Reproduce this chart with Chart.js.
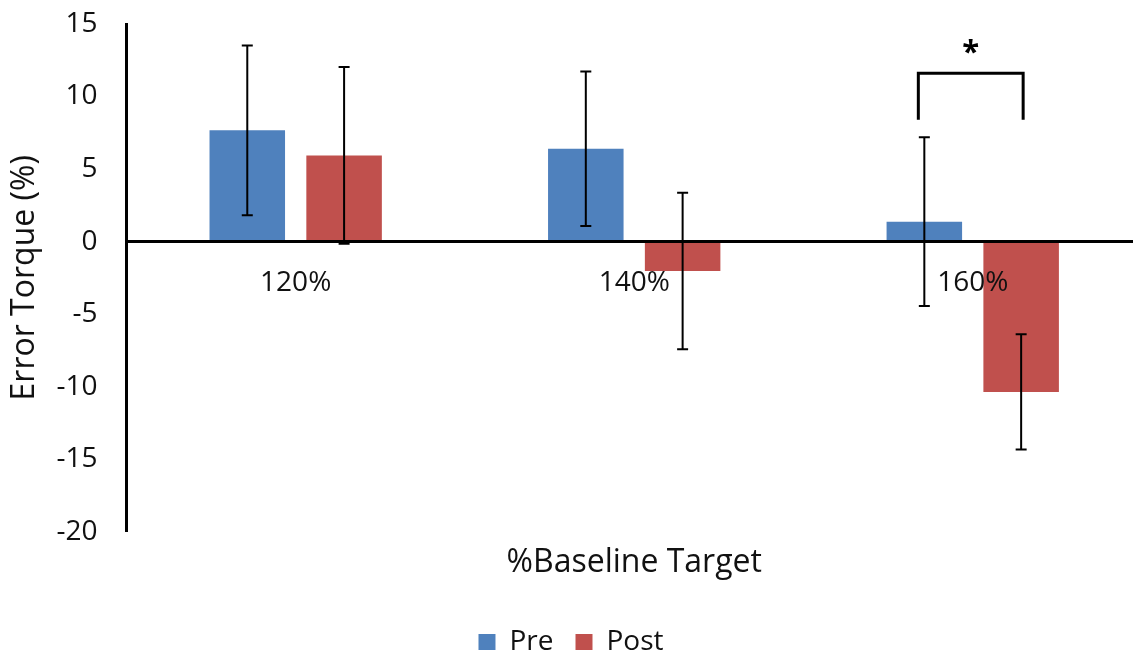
<!DOCTYPE html>
<html>
<head>
<meta charset="utf-8">
<title>Error Torque</title>
<script src="https://cdn.jsdelivr.net/npm/chart.js@4.4.0/dist/chart.umd.min.js"></script>
<style>
    html, body { margin: 0; padding: 0; background: #fff; overflow: hidden; }
    #wrap { width: 1150px; height: 666px; position: relative; }
</style>
</head>
<body>
<div id="wrap"><canvas id="torqueChart"></canvas></div>
<script>
// Categories and series values
const categories = ['120%', '140%', '160%'];
const preValues = [7.67, 6.4, 1.37];
const postValues = [5.94, -2.03, -10.37];
const preErrors = [5.85, 5.33, 5.82];
const postErrors = [6.1, 5.4, 3.97];

// Y axis range and step
const yMin = -20;
const yMax = 15;
const yStep = 5;

// Significance bracket over the 160% pair (in data units)
const sigCategory = 2;
const sigTop = 11.6;
const sigLegBottom = 8.4;
const sigStarValue = 13.0;
const sigLabel = '*';

const FONT = "'Open Sans', 'Noto Sans', sans-serif";
const TEXT = '#111';
const Y_TICK_PAD = 29;

// Draws the error bars for each dataset
const errorBars = {
    id: 'errorBars',
    afterDatasetsDraw(chart) {
        const ctx = chart.ctx;
        const y = chart.scales.y;
        const errs = [preErrors, postErrors];
        ctx.save();
        ctx.strokeStyle = '#000';
        ctx.lineWidth = 2;
        chart.data.datasets.forEach((ds, i) => {
            const meta = chart.getDatasetMeta(i);
            meta.data.forEach((bar, j) => {
                const v = ds.data[j];
                const hi = y.getPixelForValue(v + errs[i][j]);
                const lo = y.getPixelForValue(v - errs[i][j]);
                const cap = 5.5;
                ctx.beginPath();
                ctx.moveTo(bar.x, hi);
                ctx.lineTo(bar.x, lo);
                ctx.moveTo(bar.x - cap, hi);
                ctx.lineTo(bar.x + cap, hi);
                ctx.moveTo(bar.x - cap, lo);
                ctx.lineTo(bar.x + cap, lo);
                ctx.stroke();
            });
        });
        ctx.restore();
    }
};

// Bracket and star marking the significant difference
const sigBracket = {
    id: 'sigBracket',
    afterDatasetsDraw(chart) {
        const ctx = chart.ctx;
        const y = chart.scales.y;
        const x1 = chart.getDatasetMeta(0).data[sigCategory].x - 6;
        const x2 = chart.getDatasetMeta(1).data[sigCategory].x + 2;
        const top = y.getPixelForValue(sigTop);
        const bottom = y.getPixelForValue(sigLegBottom);
        ctx.save();
        ctx.strokeStyle = '#000';
        ctx.lineWidth = 3;
        ctx.beginPath();
        ctx.moveTo(x1, bottom);
        ctx.lineTo(x1, top);
        ctx.lineTo(x2, top);
        ctx.lineTo(x2, bottom);
        ctx.stroke();
        ctx.fillStyle = '#000';
        ctx.font = 'bold 31px ' + FONT;
        ctx.textAlign = 'center';
        ctx.textBaseline = 'middle';
        ctx.fillText(sigLabel, (x1 + x2) / 2, y.getPixelForValue(sigStarValue));
        ctx.restore();
    }
};

const chart = new Chart(document.getElementById('torqueChart'), {
    type: 'bar',
    data: {
        labels: categories,
        datasets: [
            {
                label: 'Pre',
                data: preValues,
                backgroundColor: '#4F81BD',
                barPercentage: 0.78,
                categoryPercentage: 0.572
            },
            {
                label: 'Post',
                data: postValues,
                backgroundColor: '#C0504D',
                barPercentage: 0.78,
                categoryPercentage: 0.572
            }
        ]
    },
    options: {
        responsive: true,
        maintainAspectRatio: false,
        animation: false,
        layout: { padding: { top: 24, right: 8, left: 0, bottom: 0 } },
        plugins: {
            tooltip: { enabled: false },
            legend: {
                position: 'bottom',
                labels: {
                    boxWidth: 17,
                    boxHeight: 16,
                    padding: 22,
                    color: TEXT,
                    font: { family: FONT, size: 28 }
                }
            }
        },
        scales: {
            // category labels sit on the zero line, drawn above the bars
            x: {
                type: 'category',
                position: { y: 0 },
                grid: { display: false, drawTicks: false },
                border: { color: '#000', width: 3, z: 1 },
                ticks: {
                    z: 1,
                    color: TEXT,
                    padding: 25,
                    font: { family: FONT, size: 28 }
                }
            },
            // carries only the axis title at the bottom
            x2: {
                type: 'category',
                position: 'bottom',
                labels: categories,
                grid: { display: false, drawTicks: false },
                border: { display: false },
                ticks: { display: false },
                title: {
                    display: true,
                    text: '%Baseline Target',
                    color: TEXT,
                    padding: { top: 12, bottom: 24 },
                    font: { family: FONT, size: 32 }
                }
            },
            y: {
                min: yMin,
                max: yMax,
                grid: { display: false, drawTicks: false },
                border: { color: '#000', width: 3 },
                ticks: {
                    stepSize: yStep,
                    color: TEXT,
                    padding: Y_TICK_PAD,
                    font: { family: FONT, size: 28 }
                },
                title: {
                    display: true,
                    text: 'Error Torque (%)',
                    color: TEXT,
                    padding: { top: 6, bottom: 12 },
                    font: { family: FONT, size: 32 }
                },
                // tick padding is only wanted between the labels and the axis line
                afterFit(scale) {
                    scale.width -= Y_TICK_PAD;
                    scale.paddingTop = 0;
                    scale.paddingBottom = 0;
                }
            }
        }
    },
    plugins: [errorBars, sigBracket]
});
</script>
</body>
</html>
